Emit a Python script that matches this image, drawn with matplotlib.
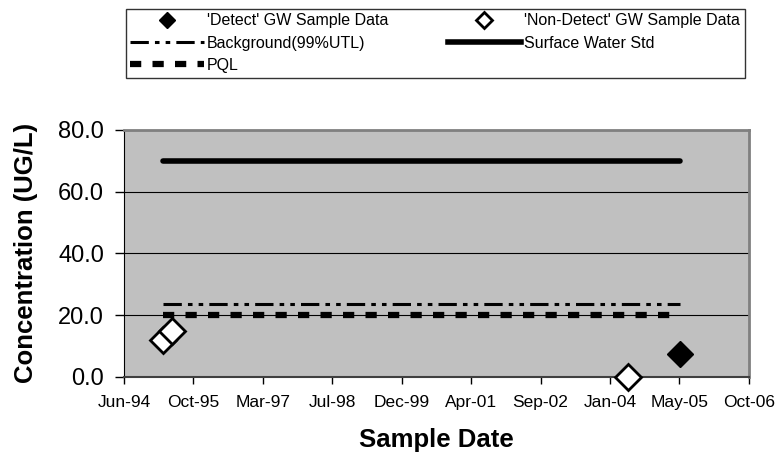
import numpy as np
import pandas as pd
import matplotlib
matplotlib.use("Agg")
import matplotlib.pyplot as plt
import matplotlib.dates as mdates
from matplotlib.lines import Line2D

plt.rcParams['font.family'] = ['Liberation Sans', 'DejaVu Sans']

# sample data
detect_dates = pd.to_datetime(['2005-06-03'])
detect_vals = [7.4]

nondetect_dates = pd.to_datetime(['1995-03-22', '1995-05-24', '2004-05-26'])
nondetect_vals = [12.0, 15.0, 0.0]

# reference lines span first to last sample
line_dates = pd.to_datetime(['1995-03-22', '2005-06-03'])
background = [23.5, 23.5]
surface_std = [70.0, 70.0]
pql = [20.0, 20.0]

tick_start = pd.Timestamp('1994-06-15')
tick_dates = [tick_start + pd.Timedelta(days=500 * k) for k in range(10)]

fig = plt.figure(figsize=(7.8, 4.62), dpi=100)
ax = fig.add_axes([0.159, 0.184, 0.801, 0.535])
ax.set_facecolor('#C0C0C0')

for y in [20, 40, 60, 80]:
    ax.axhline(y, color='black', linewidth=0.8, zorder=1)

ax.plot(line_dates, surface_std, color='black', linewidth=4, solid_capstyle='round', zorder=2)
ax.plot(line_dates, background, color='black', linewidth=2.2,
        dashes=(6, 2, 1.5, 2, 1.5, 2), zorder=2)
ax.plot(line_dates, pql, color='black', linewidth=4.5, dashes=(1.8, 1.8), zorder=2)

ax.plot(detect_dates, detect_vals, linestyle='none', marker='D', markersize=13,
        markerfacecolor='black', markeredgecolor='black', zorder=4, clip_on=False)
ax.plot(nondetect_dates, nondetect_vals, linestyle='none', marker='D', markersize=13,
        markerfacecolor='white', markeredgecolor='black', markeredgewidth=2,
        zorder=4, clip_on=False)

ax.set_xlim(tick_dates[0], tick_dates[-1])
ax.set_ylim(0, 80)
ax.set_xticks(tick_dates)
ax.xaxis.set_major_formatter(mdates.DateFormatter('%b-%y'))
ax.set_yticks([0, 20, 40, 60, 80])
ax.set_yticklabels(['0.0', '20.0', '40.0', '60.0', '80.0'])
ax.tick_params(axis='y', labelsize=17, direction='out', length=6.5, width=1, pad=8)
ax.tick_params(axis='x', labelsize=12.5, direction='out', length=5, width=1, pad=8)

for side in ['top', 'right']:
    ax.spines[side].set_color('#808080')
    ax.spines[side].set_linewidth(2)
ax.spines['left'].set_color('black')
ax.spines['bottom'].set_color('#404040')
ax.spines['bottom'].set_linewidth(1.5)

ax.set_ylabel('Concentration (UG/L)', fontsize=18.5, fontweight='bold')
ax.yaxis.set_label_coords(-0.138, 0.5)
ax.set_xlabel('Sample Date', fontsize=18.5, fontweight='bold', labelpad=13)

handles = [
    Line2D([], [], linestyle='none', marker='D', markersize=8, color='black'),
    Line2D([], [], linestyle='none', marker='D', markersize=8, markerfacecolor='white',
           markeredgecolor='black', markeredgewidth=2),
    Line2D([], [], color='black', linewidth=2.2, dashes=(6, 2, 1.5, 2, 1.5, 2)),
    Line2D([], [], color='black', linewidth=4),
    Line2D([], [], color='black', linewidth=4.5, dashes=(1.8, 1.8)),
]
labels = ["'Detect' GW Sample Data", "'Non-Detect' GW Sample Data",
          'Background(99%UTL)', 'Surface Water Std', 'PQL']
# order so the rows read across like the original
order = [0, 2, 4, 1, 3]
leg = fig.legend([handles[i] for i in order], [labels[i] for i in order],
                 loc='lower left', bbox_to_anchor=(0.161, 0.832, 0.794, 0.162),
                 mode='expand', ncol=2, fontsize=11.5, frameon=True, fancybox=False,
                 edgecolor='black', handlelength=4.6, handletextpad=0.2,
                 borderaxespad=0, labelspacing=0.45, borderpad=0.3)
leg.get_frame().set_linewidth(1)

fig.savefig('out.png', dpi=100)
